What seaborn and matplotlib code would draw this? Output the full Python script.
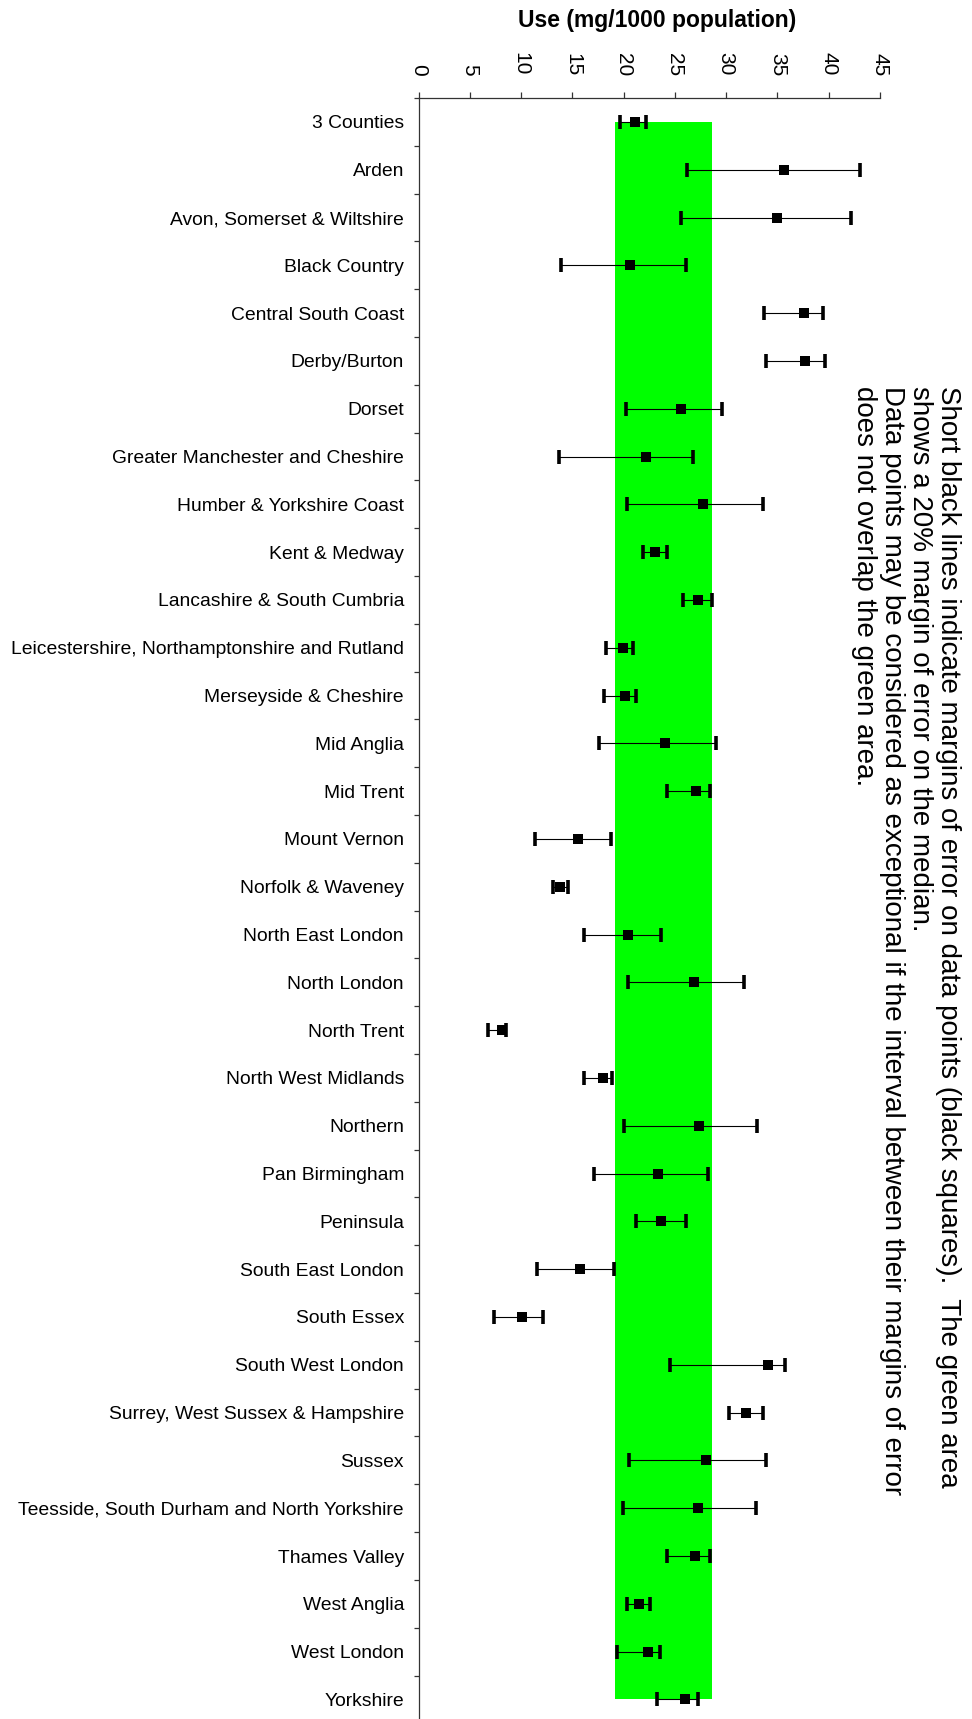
import numpy as np
import pandas as pd
import matplotlib
matplotlib.use("Agg")
import matplotlib.pyplot as plt
import seaborn as sns

# Regions in display order (top to bottom)
regions = [
    "3 Counties", "Arden", "Avon, Somerset & Wiltshire", "Black Country",
    "Central South Coast", "Derby/Burton", "Dorset",
    "Greater Manchester and Cheshire", "Humber & Yorkshire Coast",
    "Kent & Medway", "Lancashire & South Cumbria",
    "Leicestershire, Northamptonshire and Rutland", "Merseyside & Cheshire",
    "Mid Anglia", "Mid Trent", "Mount Vernon", "Norfolk & Waveney",
    "North East London", "North London", "North Trent",
    "North West Midlands", "Northern", "Pan Birmingham", "Peninsula",
    "South East London", "South Essex", "South West London",
    "Surrey, West Sussex & Hampshire", "Sussex",
    "Teesside, South Durham and North Yorkshire", "Thames Valley",
    "West Anglia", "West London", "Yorkshire",
]

# Use (mg/1000 population): point estimate and lower/upper margin of error
use_value = [
    21.10, 35.67, 34.93, 20.58, 37.56, 37.72, 25.59, 22.15, 27.77, 23.02,
    27.22, 19.90, 20.10, 24.06, 27.02, 15.57, 13.82, 20.45, 26.89, 8.10,
    17.95, 27.35, 23.32, 23.64, 15.77, 10.08, 34.05, 31.90, 28.03, 27.25,
    26.96, 21.46, 22.34, 25.98,
]
use_lower = [
    19.65, 26.14, 25.59, 13.85, 33.69, 33.85, 20.19, 13.69, 20.32, 21.85,
    25.82, 18.24, 18.05, 17.59, 24.26, 11.38, 13.13, 16.10, 20.39, 6.79,
    16.10, 20.00, 17.10, 21.23, 11.57, 7.38, 24.49, 30.30, 20.52, 19.96,
    24.22, 20.32, 19.35, 23.25,
]
use_upper = [
    22.18, 43.08, 42.18, 26.04, 39.44, 39.61, 29.56, 26.73, 33.56, 24.26,
    28.62, 20.91, 21.17, 29.04, 28.45, 18.79, 14.60, 23.64, 31.77, 8.52,
    18.86, 33.00, 28.19, 26.04, 19.05, 12.13, 35.77, 33.56, 33.88, 32.88,
    28.39, 22.57, 23.54, 27.22,
]

# 20% margin of error around the median (green band)
band_low = 19.12
band_high = 28.64

x_ticks = [0, 5, 10, 15, 20, 25, 30, 35, 40, 45]

note = ("Short black lines indicate margins of error on data points (black squares).  The green area\n"
        "shows a 20% margin of error on the median.\n"
        "Data points may be considered as exceptional if the interval between their margins of error\n"
        "does not overlap the green area.")

sns.set_theme(style="white")
plt.rcParams["font.family"] = ["Liberation Sans", "DejaVu Sans"]

W, H = 972, 1719
fig = plt.figure(figsize=(W / 100, H / 100), dpi=100)
ax_left, ax_right, ax_top = 418.7, 880.0, 97.7
ax = fig.add_axes([ax_left / W, 0.0, (ax_right - ax_left) / W, 1 - ax_top / H])

df = pd.DataFrame({
    "region": regions,
    "pos": np.arange(len(regions)),
    "use": use_value,
    "lo": use_lower,
    "hi": use_upper,
})

# green band spanning from first to last region
ax.fill_betweenx([df.pos.iloc[0], df.pos.iloc[-1]], band_low, band_high,
                 color="#00ff00", lw=0, zorder=1)

# margins of error
ax.errorbar(df.use, df.pos, xerr=[df.use - df.lo, df.hi - df.use], fmt="none",
            ecolor="black", elinewidth=0.8, capsize=5, capthick=2.6, zorder=2)

# data points
sns.scatterplot(data=df, x="use", y="pos", marker="s", s=52, color="black",
                linewidth=0, ax=ax, zorder=3)

ax.set_xlim(0, 45)
ax.set_ylim(33.41, -0.508)
ax.set_xlabel("")
ax.set_ylabel("")

for side in ("right", "bottom"):
    ax.spines[side].set_visible(False)
for side in ("left", "top"):
    ax.spines[side].set_color("#333333")
    ax.spines[side].set_linewidth(0.9)

ax.xaxis.tick_top()
ax.set_xticks(x_ticks)
ax.set_xticklabels([str(t) for t in x_ticks])
ax.tick_params(axis="x", top=True, bottom=False, length=4.3, width=0.9,
               color="#333333", pad=11.5, labelsize=15, labelrotation=-90,
               labelcolor="black")

ax.set_yticks(df.pos)
ax.set_yticklabels(df.region)
ax.set_yticks(np.arange(-0.5, len(regions) - 0.5, 1.0), minor=True)
ax.tick_params(axis="y", which="major", left=True, length=0, pad=10.6,
               labelsize=13.9, labelcolor="black")
ax.tick_params(axis="y", which="minor", left=True, length=3.6, width=0.9,
               color="#333333")

fig.text(657.5 / W, 1 - 27.5 / H, "Use (mg/1000 population)", ha="center",
         va="baseline", fontsize=16.5, fontweight="bold", color="black")

fig.text(961 / W, 1 - 386 / H, note, rotation=-90, ha="right", va="top",
         multialignment="left", fontsize=20, linespacing=1.1, color="black")

fig.savefig("out.png", dpi=100)
